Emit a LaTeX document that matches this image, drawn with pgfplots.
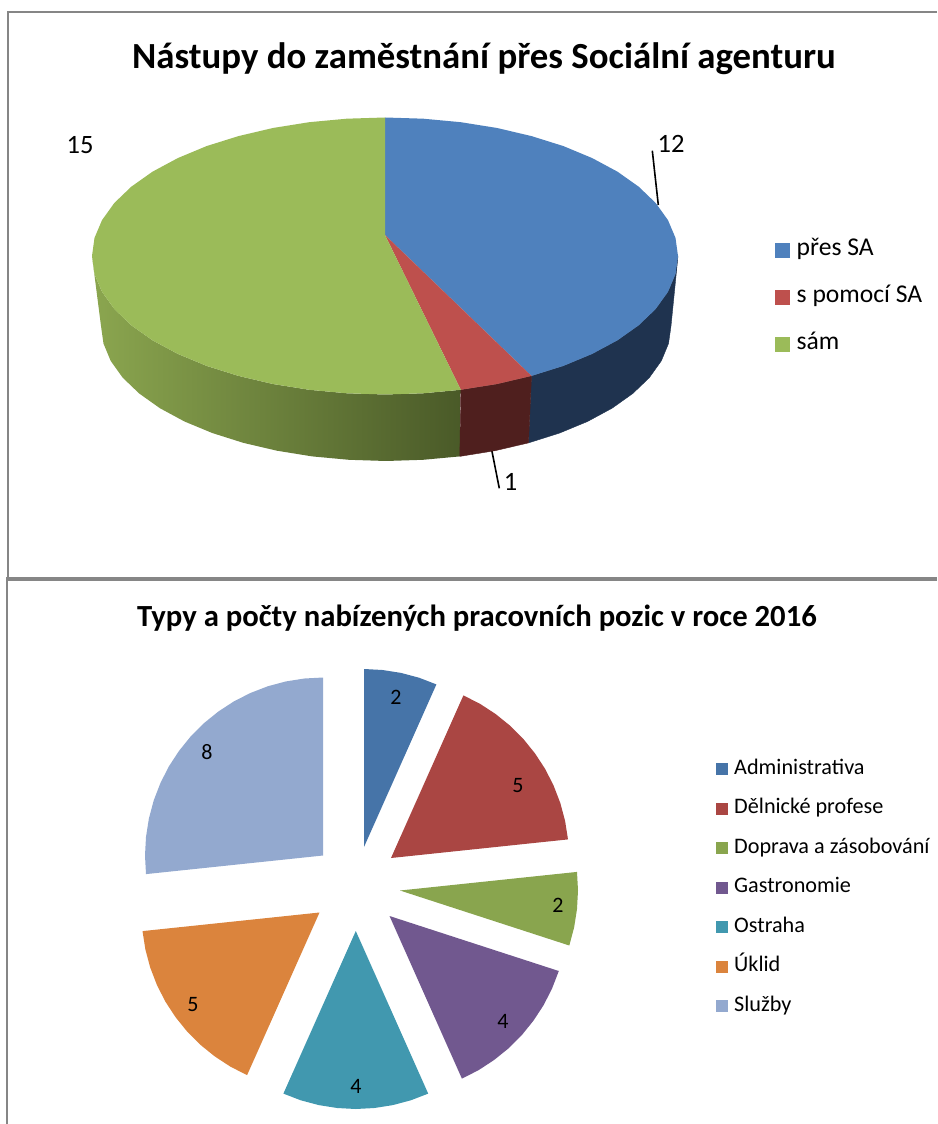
\documentclass[border=0pt]{standalone}
\usepackage{pgfplots}
\pgfplotsset{compat=1.18}
\usepackage{fontspec}
\setmainfont{Carlito}
\definecolor{tb}{HTML}{4F81BD}\definecolor{tr}{HTML}{BE504D}\definecolor{tg}{HTML}{9BBB59}
\definecolor{sb}{HTML}{1F334F}\definecolor{sr}{HTML}{4F1F1E}
\definecolor{sgl}{HTML}{8BA64F}\definecolor{sgr}{HTML}{4A5A28}
\definecolor{p1}{HTML}{4674A8}\definecolor{p2}{HTML}{AA4643}\definecolor{p3}{HTML}{89A54E}
\definecolor{p4}{HTML}{71588F}\definecolor{p5}{HTML}{4198AF}\definecolor{p6}{HTML}{DB843D}\definecolor{p7}{HTML}{93A9CF}
\definecolor{frame}{HTML}{868686}
\pgfplotsset{
  px/.style={at={(0,0)},anchor=south west,width=937pt,height=1124pt,scale only axis,
    xmin=0,xmax=937,ymin=0,ymax=1124,y dir=reverse,hide axis,clip=false},
  sq/.style 2 args={legend image code/.code={\fill[##1] (0pt,#2-#1) rectangle (2*#1,#2+#1);}},
}
\begin{document}
\begin{tikzpicture}
\useasboundingbox (0,0) rectangle (937pt,1124pt);
\begin{axis}[px,sq={7.5pt}{5pt},
  legend style={at={(axis cs:775,238)},anchor=north west,draw=none,fill=none,inner sep=0pt,
    font=\fontsize{25.6}{25.6}\selectfont,row sep=25pt,
    nodes={inner sep=0pt,text height=17pt,text depth=5pt,anchor=base west},
    /tikz/column 2/.style={column sep=0pt}}]
% frame
\addplot[frame,line width=2pt,forget plot] coordinates {(937,12.5) (7.5,12.5) (7.5,578)};
% leader lines
\addplot[black,line width=1.6pt,forget plot] coordinates {(652.3,150.7) (658.3,205)};
\addplot[black,line width=1.6pt,forget plot] coordinates {(491.7,450) (499.3,488.3)};
% sides
\addplot[draw=none,left color=sgl,right color=sgr,forget plot] coordinates {(460.8,389.8) (423.2,393.3) (385,394.5) (346.8,393.3) (309.2,389.8) (272.9,384) (238.5,375.9) (206.6,365.9) (177.8,353.9) (152.5,340.3) (131.3,325.3) (114.3,309) (102,291.8) (94.5,274.1) (92,256)
  (101,326) (103.5,343.6) (110.7,360.9) (122.7,377.7) (139.2,393.5) (159.9,408.2) (184.5,421.5) (212.5,433.1) (243.5,442.9) (276.9,450.7) (312.2,456.4) (348.8,459.8) (386,461) (423.2,459.8) (459.8,456.4)} --cycle;
\addplot[draw=sb,line width=.4pt,fill=sb,forget plot] coordinates {(678,256) (675.5,274.1) (668,291.8) (655.7,309) (638.7,325.3) (617.5,340.3) (592.2,353.9) (563.4,365.9) (531.5,375.9)
  (528.5,442.9) (559.5,433.1) (587.5,421.5) (612.1,408.2) (632.8,393.5) (649.3,377.7) (661.3,360.9) (668.5,343.6) (671,326)} --cycle;
\addplot[draw=sr,line width=.4pt,fill=sr,forget plot] coordinates {(531.5,375.9) (497.1,384) (460.8,389.8) (459.8,456.4) (495.1,450.7) (528.5,442.9)} --cycle;
% top faces
\addplot[draw=none,fill=tb] coordinates {(385,235) (385,117.5) (423.2,118.7) (460.8,122.2) (497.1,128) (531.5,136.1) (563.4,146.1) (592.2,158.1) (617.5,171.7) (638.7,186.7) (655.7,203) (668,220.2) (675.5,237.9) (678,256) (675.5,274.1) (668,291.8) (655.7,309) (638.7,325.3) (617.5,340.3) (592.2,353.9) (563.4,365.9) (531.5,375.9)} --cycle;
\addlegendentry{\hspace{6.5pt}přes SA}
\addplot[draw=none,fill=tr] coordinates {(385,235) (531.5,375.9) (497.1,384) (460.8,389.8)} --cycle;
\addlegendentry{\hspace{6.5pt}s pomocí SA}
\addplot[draw=none,fill=tg] coordinates {(385,235) (460.8,389.8) (423.2,393.3) (385,394.5) (346.8,393.3) (309.2,389.8) (272.9,384) (238.5,375.9) (206.6,365.9) (177.8,353.9) (152.5,340.3) (131.3,325.3) (114.3,309) (102,291.8) (94.5,274.1) (92,256) (94.5,237.9) (102,220.2) (114.3,203) (131.3,186.7) (152.5,171.7) (177.8,158.1) (206.6,146.1) (238.5,136.1) (272.9,128) (309.2,122.2) (346.8,118.7) (385,117.5)} --cycle;
\addlegendentry{\hspace{6.5pt}sám}
\node[font=\bfseries\fontsize{36.8}{36.8}\selectfont] at (axis cs:484,58.5) {Nástupy do zaměstnání přes Sociální agenturu};
\node[font=\fontsize{26.5}{26.5}\selectfont] at (axis cs:80,145) {15};
\node[font=\fontsize{26.5}{26.5}\selectfont] at (axis cs:671,144) {12};
\node[font=\fontsize{26.5}{26.5}\selectfont] at (axis cs:510.5,482) {1};
\end{axis}
\begin{axis}[px,sq={6pt}{5pt},
  legend style={at={(axis cs:716,760)},anchor=north west,draw=none,fill=none,inner sep=0pt,
    font=\fontsize{22.2}{22.2}\selectfont,row sep=19.5pt,
    nodes={inner sep=0pt,text height=14pt,text depth=6pt,anchor=base west}}]
\addplot[frame,line width=3.5pt,forget plot] coordinates {(6,579) (937,579)};
\addplot[frame,line width=2pt,forget plot] coordinates {(6.5,579) (6.5,1124)};
\addplot[draw=none,fill=p1] coordinates {(364,847) (364,669) (382.6,670) (401,672.9) (419,677.7) (436.4,684.4)} --cycle;
\addlegendentry{\hspace{6pt}Administrativa}
\addplot[draw=none,fill=p2] coordinates {(391,858) (463.4,695.4) (480,703.8) (495.6,714) (510.1,725.7) (523.3,738.9) (535,753.4) (545.2,769) (553.6,785.6) (560.3,803) (565.1,821) (568,839.4)} --cycle;
\addlegendentry{\hspace{6pt}Dělnické profese}
\addplot[draw=none,fill=p3] coordinates {(400,890.5) (577,871.9) (578,890.5) (577,909.1) (574.1,927.5) (569.3,945.5)} --cycle;
\addlegendentry{\hspace{6pt}Doprava a zásobování}
\addplot[draw=none,fill=p4] coordinates {(389.5,916) (558.8,971) (552.1,988.4) (543.7,1005) (533.5,1020.6) (521.8,1035.1) (508.6,1048.3) (494.1,1060) (478.5,1070.2) (461.9,1078.6)} --cycle;
\addlegendentry{\hspace{6pt}Gastronomie}
\addplot[draw=none,fill=p5] coordinates {(355.8,931) (428.2,1093.6) (410.8,1100.3) (392.8,1105.1) (374.4,1108) (355.8,1109) (337.2,1108) (318.8,1105.1) (300.8,1100.3) (283.4,1093.6)} --cycle;
\addlegendentry{\hspace{6pt}Ostraha}
\addplot[draw=none,fill=p6] coordinates {(319.5,912.5) (247.1,1075.1) (230.5,1066.7) (214.9,1056.5) (200.4,1044.8) (187.2,1031.6) (175.5,1017.1) (165.3,1001.5) (156.9,984.9) (150.2,967.5) (145.4,949.5) (142.5,931.1)} --cycle;
\addlegendentry{\hspace{6pt}Úklid}
\addplot[draw=none,fill=p7] coordinates {(323,855.5) (146,874.1) (145,855.5) (146,836.9) (148.9,818.5) (153.7,800.5) (160.4,783.1) (168.8,766.5) (179,750.9) (190.7,736.4) (203.9,723.2) (218.4,711.5) (234,701.3) (250.6,692.9) (268,686.2) (286,681.4) (304.4,678.5) (323,677.5)} --cycle;
\addlegendentry{\hspace{6pt}Služby}
\node[font=\bfseries\fontsize{30.7}{30.7}\selectfont] at (axis cs:477,618) {Typy a počty nabízených pracovních pozic v roce 2016};
\foreach \x/\y/\t in {396/697/2,518/786/5,558/905/2,503/1021/4,356/1086/4,193/1005/5,207/752/8}{
  \edef\tmp{\noexpand\node[font=\noexpand\fontsize{22}{22}\noexpand\selectfont] at (axis cs:\x,\y) {\t};}\tmp
}
\end{axis}
\end{tikzpicture}
\end{document}
